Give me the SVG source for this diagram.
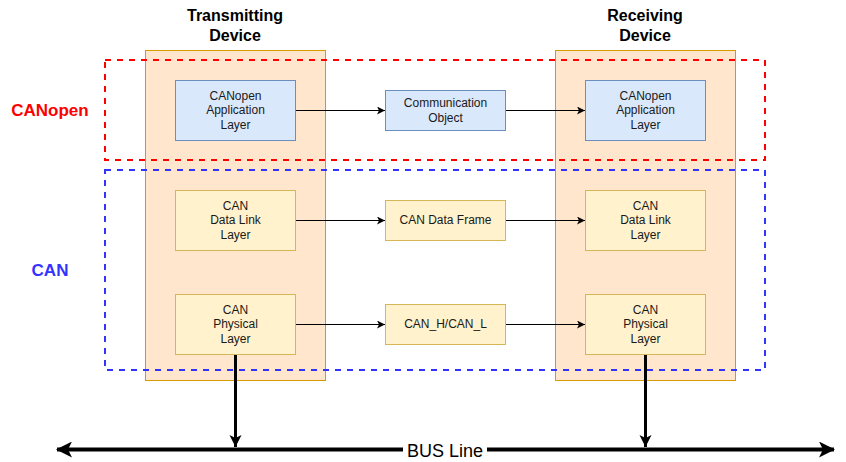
<svg xmlns="http://www.w3.org/2000/svg" width="846" height="462" viewBox="0 0 846 462">
<style>
text{font-family:"Liberation Sans",Arial,sans-serif;}
.dev{fill:#ffe6cc;stroke:#d79b00;stroke-width:1}
.blue{fill:#dae8fc;stroke:#6c8ebf;stroke-width:1}
.yel{fill:#fff2cc;stroke:#d6b656;stroke-width:1}
.lbl{font-size:12px;fill:#1a1a1a;text-anchor:middle}
.hdr{font-size:16px;font-weight:bold;fill:#000;text-anchor:middle}
.conn{stroke:#000;stroke-width:1;fill:none}
.thick{stroke:#000;stroke-width:3;fill:none}
</style>
<defs>
<marker id="ah" markerWidth="10" markerHeight="10" refX="8" refY="4" orient="auto" markerUnits="userSpaceOnUse">
<path d="M0,0 L8,4 L0,8 L2,4 Z" fill="#000"/>
</marker>
<marker id="ahb" markerWidth="16" markerHeight="16" refX="12" refY="6" orient="auto" markerUnits="userSpaceOnUse">
<path d="M0,0 L12,6 L0,12 L3,6 Z" fill="#000"/>
</marker>
<marker id="ahs" markerWidth="20" markerHeight="20" refX="1" refY="8" orient="auto" markerUnits="userSpaceOnUse">
<path d="M16,0 L0,8 L16,16 L12,8 Z" fill="#000"/>
</marker>
<marker id="ahe" markerWidth="20" markerHeight="20" refX="15" refY="8" orient="auto" markerUnits="userSpaceOnUse">
<path d="M0,0 L16,8 L0,16 L4,8 Z" fill="#000"/>
</marker>
</defs>

<g id="transmitting-device">
<rect class="dev" x="145.5" y="50.5" width="180" height="330"/>
<text class="hdr" x="235" y="21">Transmitting</text>
<text class="hdr" x="235" y="41">Device</text>
</g>
<g id="receiving-device">
<rect class="dev" x="555.5" y="50.5" width="180" height="330"/>
<text class="hdr" x="645" y="21">Receiving</text>
<text class="hdr" x="645" y="41">Device</text>
</g>

<g id="canopen-group">
<rect x="105" y="60" width="660" height="100" fill="none" stroke="#ff0000" stroke-width="2" stroke-dasharray="6 6"/>
<text x="50" y="116" font-size="17" font-weight="bold" fill="#ff0000" text-anchor="middle">CANopen</text>
</g>
<g id="can-group">
<rect x="105" y="170" width="660" height="200" fill="none" stroke="#3333ff" stroke-width="2" stroke-dasharray="6 6"/>
<text x="50" y="276" font-size="17" font-weight="bold" fill="#3333ff" text-anchor="middle">CAN</text>
</g>

<g id="tx-app">
<rect class="blue" x="175.5" y="80.5" width="120" height="60"/>
<text class="lbl" x="235.5" y="100">CANopen</text>
<text class="lbl" x="235.5" y="114">Application</text>
<text class="lbl" x="235.5" y="129">Layer</text>
</g>
<g id="comm-object">
<rect class="blue" x="385.5" y="90.5" width="120" height="40"/>
<text class="lbl" x="445.5" y="107">Communication</text>
<text class="lbl" x="445.5" y="122">Object</text>
</g>
<g id="rx-app">
<rect class="blue" x="585.5" y="80.5" width="120" height="60"/>
<text class="lbl" x="645.5" y="100">CANopen</text>
<text class="lbl" x="645.5" y="114">Application</text>
<text class="lbl" x="645.5" y="129">Layer</text>
</g>

<g id="tx-dll">
<rect class="yel" x="175.5" y="190.5" width="120" height="60"/>
<text class="lbl" x="235.5" y="210">CAN</text>
<text class="lbl" x="235.5" y="224">Data Link</text>
<text class="lbl" x="235.5" y="239">Layer</text>
</g>
<g id="can-frame">
<rect class="yel" x="385.5" y="200.5" width="120" height="40"/>
<text class="lbl" x="445.5" y="224">CAN Data Frame</text>
</g>
<g id="rx-dll">
<rect class="yel" x="585.5" y="190.5" width="120" height="60"/>
<text class="lbl" x="645.5" y="210">CAN</text>
<text class="lbl" x="645.5" y="224">Data Link</text>
<text class="lbl" x="645.5" y="239">Layer</text>
</g>

<g id="tx-phy">
<rect class="yel" x="175.5" y="294.5" width="120" height="60"/>
<text class="lbl" x="235.5" y="314">CAN</text>
<text class="lbl" x="235.5" y="328">Physical</text>
<text class="lbl" x="235.5" y="343">Layer</text>
</g>
<g id="can-hl">
<rect class="yel" x="385.5" y="304.5" width="120" height="40"/>
<text class="lbl" x="445.5" y="328">CAN_H/CAN_L</text>
</g>
<g id="rx-phy">
<rect class="yel" x="585.5" y="294.5" width="120" height="60"/>
<text class="lbl" x="645.5" y="314">CAN</text>
<text class="lbl" x="645.5" y="328">Physical</text>
<text class="lbl" x="645.5" y="343">Layer</text>
</g>

<g id="connectors">
<line class="conn" x1="296" y1="110.5" x2="385" y2="110.5" marker-end="url(#ah)"/>
<line class="conn" x1="506" y1="110.5" x2="585" y2="110.5" marker-end="url(#ah)"/>
<line class="conn" x1="296" y1="220.5" x2="385" y2="220.5" marker-end="url(#ah)"/>
<line class="conn" x1="506" y1="220.5" x2="585" y2="220.5" marker-end="url(#ah)"/>
<line class="conn" x1="296" y1="324.5" x2="385" y2="324.5" marker-end="url(#ah)"/>
<line class="conn" x1="506" y1="324.5" x2="585" y2="324.5" marker-end="url(#ah)"/>
<line class="thick" x1="235.5" y1="355" x2="235.5" y2="447" marker-end="url(#ahb)"/>
<line class="thick" x1="645.5" y1="355" x2="645.5" y2="447" marker-end="url(#ahb)"/>
<line x1="57" y1="449.5" x2="834" y2="449.5" stroke="#000" stroke-width="4" marker-start="url(#ahs)" marker-end="url(#ahe)"/>
<rect x="403" y="440" width="84" height="20" fill="#fff"/>
<text x="445" y="457" font-size="18" fill="#000" text-anchor="middle">BUS Line</text>
</g>
</svg>
